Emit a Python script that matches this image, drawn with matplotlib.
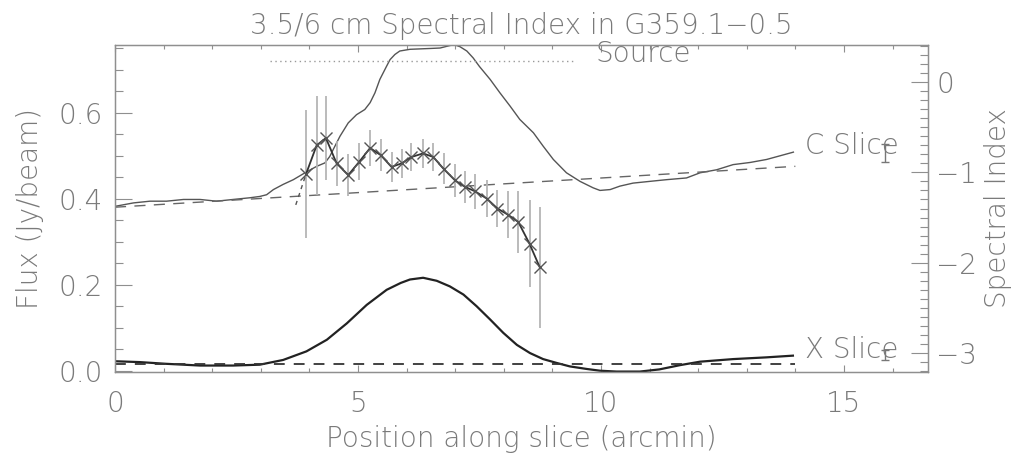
import matplotlib
matplotlib.use("Agg")
import matplotlib.pyplot as plt
from matplotlib.ticker import MultipleLocator

# ---- data ----
c_pos = [0.0, 0.38, 0.72, 1.06, 1.41, 1.75, 2.09, 2.43, 2.78, 2.98, 3.12, 3.26,
         3.46, 3.67, 3.91, 4.15, 4.32, 4.42, 4.49, 4.63, 4.80, 4.97, 5.14, 5.25,
         5.35, 5.45, 5.59, 5.66, 5.76, 5.86, 6.07, 6.5, 6.69, 6.9, 7.0, 7.1, 7.24,
         7.37, 7.5, 7.72, 7.92, 8.13, 8.33, 8.61, 8.81, 9.02, 9.29, 9.57, 9.84,
         9.98, 10.19, 10.39, 10.66, 11.0, 11.35, 11.76, 12.04, 12.38, 12.72,
         13.07, 13.41, 13.96]
c_flux = [0.382, 0.390, 0.394, 0.394, 0.398, 0.398, 0.394, 0.398, 0.402, 0.405,
          0.409, 0.421, 0.433, 0.444, 0.460, 0.475, 0.483, 0.498, 0.514, 0.545,
          0.576, 0.595, 0.607, 0.623, 0.646, 0.677, 0.708, 0.723, 0.735, 0.743,
          0.747, 0.749, 0.750, 0.756, 0.757, 0.753, 0.743, 0.727, 0.707, 0.677,
          0.646, 0.615, 0.584, 0.553, 0.522, 0.491, 0.460, 0.440, 0.425, 0.419,
          0.421, 0.429, 0.436, 0.440, 0.444, 0.448, 0.460, 0.467, 0.479, 0.484,
          0.491, 0.508]
c_base_pos = [0.0, 14.0]
c_base_flux = [0.380, 0.475]

x_pos = [0.0, 0.51, 1.06, 1.75, 2.43, 2.98, 3.46, 3.94, 4.36, 4.77, 5.18, 5.59,
         5.88, 6.07, 6.34, 6.62, 6.89, 7.17, 7.44, 7.72, 7.99, 8.27, 8.54, 8.81,
         9.09, 9.36, 9.71, 9.98, 10.32, 10.8, 11.2, 11.63, 12.04, 12.72, 13.4,
         13.95]
x_flux = [0.022, 0.020, 0.016, 0.012, 0.012, 0.014, 0.025, 0.045, 0.072, 0.110,
          0.153, 0.188, 0.204, 0.212, 0.216, 0.209, 0.196, 0.177, 0.150, 0.119,
          0.088, 0.060, 0.041, 0.027, 0.018, 0.010, 0.004, 0.000, -0.002,
          -0.002, 0.003, 0.013, 0.021, 0.027, 0.031, 0.035]
x_base_pos = [0.0, 14.0]
x_base_flux = [0.0155, 0.0155]

idx_pos = [3.93, 4.15, 4.34, 4.56, 4.80, 5.03, 5.25, 5.47, 5.69, 5.90, 6.10, 6.34,
           6.55, 6.76, 7.00, 7.20, 7.41, 7.65, 7.87, 8.09, 8.30, 8.53, 8.74]
idx_val = [-1.02, -0.70, -0.62, -0.90, -1.03, -0.88, -0.73, -0.81, -0.94, -0.90,
           -0.83, -0.79, -0.83, -0.96, -1.09, -1.16, -1.21, -1.29, -1.40, -1.47,
           -1.55, -1.79, -2.05]
idx_err = [0.71, 0.55, 0.47, 0.25, 0.23, 0.20, 0.20, 0.18, 0.17, 0.16, 0.16, 0.16,
           0.16, 0.17, 0.18, 0.18, 0.19, 0.20, 0.20, 0.26, 0.34, 0.48, 0.67]
lead_pos = [3.72, 3.93]
lead_val = [-1.36, -1.02]

source_pos = [3.19, 9.47]
source_flux = [0.719, 0.719]

typ_err_pos = [15.84, 15.84]
typ_err_flux = [0.506, 0.037]
typ_err_size = [0.020, 0.012]

title = "3.5/6 cm Spectral Index in G359.1\u22120.5"
xlabel = "Position along slice (arcmin)"
ylabel_left = "Flux (Jy/beam)"
ylabel_right = "Spectral Index"

# ---- style ----
TXT = "#7a7a7a"
SPN = "#8f8f8f"
fs = 20
FW = "light"
plt.rcParams["font.weight"] = FW
plt.rcParams["axes.titleweight"] = FW
plt.rcParams["axes.labelweight"] = FW

fig = plt.figure(figsize=(10.15, 4.58), dpi=100)
ax = fig.add_axes([115/1015, 1-372/458, (928-115)/1015, (372-45)/458])
ax2 = ax.twinx()

ax.plot(c_pos, c_flux, color="#555555", lw=1.0)
ax.plot(c_base_pos, c_base_flux, color="#666666", lw=1.0, ls=(0, (8, 6)))
ax.plot(x_pos, x_flux, color="#222222", lw=1.6)
ax.plot(x_base_pos, x_base_flux, color="#333333", lw=1.3, ls=(0, (6, 5)))
ax.plot(source_pos, source_flux, color="#999999", lw=1.0, ls=(0, (1, 2.5)))
ax.errorbar(typ_err_pos, typ_err_flux, yerr=typ_err_size, fmt="none",
            ecolor="#777777", elinewidth=1.0, capsize=3)

ax.text(9.88, 0.735, "Source", fontsize=fs, color=TXT, va="center", ha="left",
        fontweight=FW)
ax.text(14.2, 0.523, "C Slice", fontsize=fs, color=TXT, va="center", ha="left",
        fontweight=FW)
ax.text(14.2, 0.049, "X Slice", fontsize=fs, color=TXT, va="center", ha="left",
        fontweight=FW)

ax2.errorbar(idx_pos, idx_val, yerr=idx_err, fmt="none", ecolor="#b5b5b5",
             elinewidth=1.3, capsize=0, zorder=1)
ax2.plot(lead_pos, lead_val, color="#555555", lw=1.0, ls=(0, (3, 3)))
ax2.plot(idx_pos, idx_val, color="#333333", lw=1.3, marker="x", ms=9,
         mew=1.0, mec="#555555", zorder=3)

ax.set_xlim(0, 16.73)
ax.set_ylim(-0.003, 0.757)
ax2.set_ylim(-3.21, 0.41)

ax.xaxis.set_major_locator(MultipleLocator(5))
ax.xaxis.set_minor_locator(MultipleLocator(1))
ax.yaxis.set_major_locator(MultipleLocator(0.2))
ax.yaxis.set_minor_locator(MultipleLocator(0.05))
ax2.yaxis.set_major_locator(MultipleLocator(1))
ax2.yaxis.set_minor_locator(MultipleLocator(0.1))

ax.tick_params(axis="x", which="both", direction="in", top=True, colors=SPN,
               labelcolor=TXT, labelsize=fs, pad=13)
ax.tick_params(axis="x", which="major", length=5, width=0.8)
ax.tick_params(axis="x", which="minor", length=3, width=0.8)
ax.tick_params(axis="y", which="both", direction="in", colors=SPN,
               labelcolor=TXT, labelsize=fs, pad=9)
ax.tick_params(axis="y", which="major", length=12, width=0.8)
ax.tick_params(axis="y", which="minor", length=6, width=0.8)
ax2.tick_params(axis="y", which="both", direction="in", colors=SPN,
                labelcolor=TXT, labelsize=fs, pad=6)
ax2.tick_params(axis="y", which="major", length=12, width=0.8)
ax2.tick_params(axis="y", which="minor", length=6, width=0.8)

ax.xaxis.set_major_formatter(plt.FuncFormatter(lambda v, p: f"{v:.0f}"))
ax.yaxis.set_major_formatter(plt.FuncFormatter(
    lambda v, p: f"{abs(v):.1f}" if abs(v) < 1e-9 else f"{v:.1f}"))
ax2.yaxis.set_major_formatter(
    plt.FuncFormatter(lambda v, p: f"{v:.0f}".replace("-", "\u2212")))

for a in (ax, ax2):
    for s in a.spines.values():
        s.set_color(SPN)
        s.set_linewidth(0.9)

ax.set_title(title, fontsize=fs, color=TXT, pad=8, fontweight=FW)
ax.set_xlabel(xlabel, fontsize=fs, color=TXT, labelpad=5, fontweight=FW)
ax.set_ylabel(ylabel_left, fontsize=fs, color=TXT, labelpad=10, fontweight=FW)
ax2.set_ylabel(ylabel_right, fontsize=fs, color=TXT, labelpad=5, fontweight=FW)

fig.savefig("out.png", dpi=100)
